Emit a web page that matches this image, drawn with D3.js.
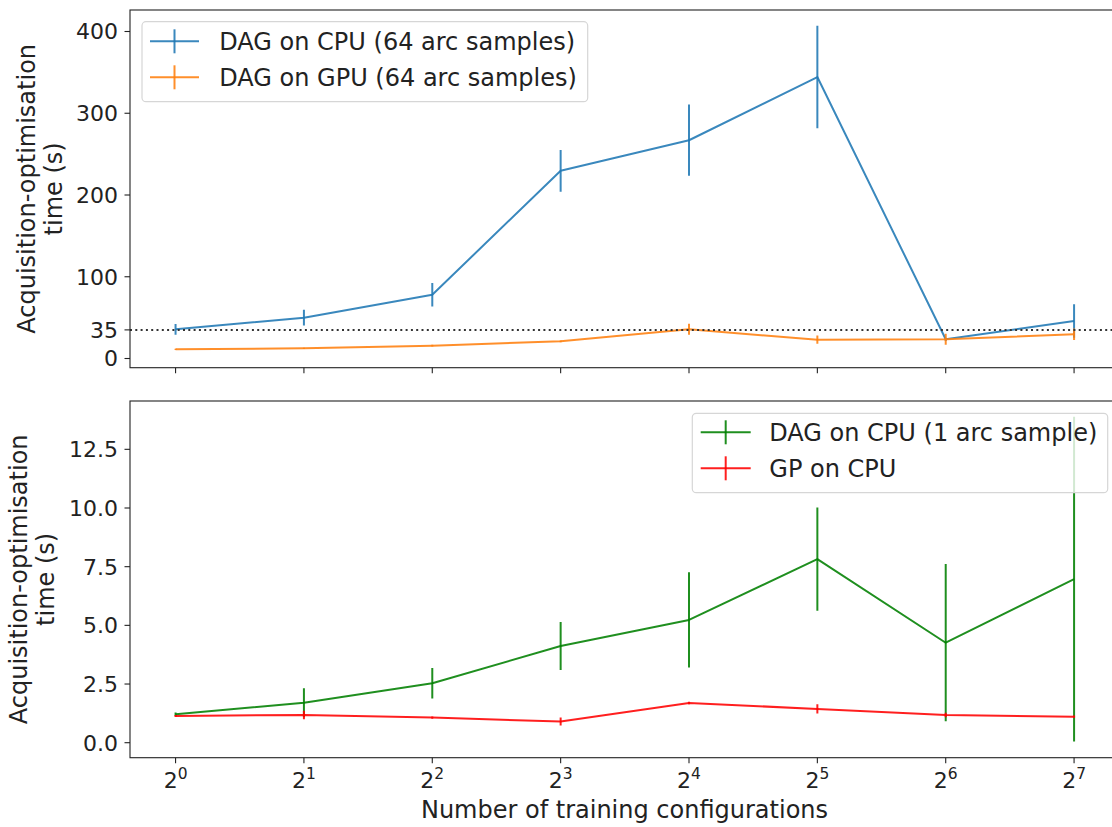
<!DOCTYPE html>
<html>
<head>
<meta charset="utf-8">
<script src="https://cdn.jsdelivr.net/npm/d3@7"></script>
<style>
  html, body { margin: 0; padding: 0; background: #fff; }
  svg { display: block; font-family: "DejaVu Sans", sans-serif; }
</style>
</head>
<body>
<svg id="chart" width="1112" height="827"></svg>
<script>
// ---- data ----
const configs = [1, 2, 4, 8, 16, 32, 64, 128];
const tickExponents = ["0", "1", "2", "3", "4", "5", "6", "7"];

const dagCpu64 = [35.7, 49.9, 78, 229.6, 267, 344.3, 23.5, 45.9];
const dagCpu64Err = [6.5, 9.6, 14.3, 25.5, 43.6, 62.6, 2, 20.4];
const dagGpu64 = [11.2, 12.5, 15.7, 21, 35.7, 23, 23.5, 29.6];
const dagGpu64Err = [0.8, 0.8, 1, 1, 6.7, 5.1, 6.7, 7.1];

const dagCpu1 = [1.21, 1.70, 2.53, 4.12, 5.23, 7.82, 4.26, 6.97];
const dagCpu1Err = [0.08, 0.62, 0.65, 1.02, 2.03, 2.2, 3.35, 6.92];
const gpCpu = [1.14, 1.18, 1.07, 0.9, 1.69, 1.44, 1.18, 1.11];
const gpCpuErr = [0.04, 0.18, 0.05, 0.17, 0.05, 0.2, 0.1, 0.05];

const topTicks = [0, 35, 100, 200, 300, 400];
const bottomTicks = [0, 2.5, 5, 7.5, 10, 12.5];
const refLine = 35;

const topLabels = ["DAG on CPU (64 arc samples)", "DAG on GPU (64 arc samples)"];
const bottomLabels = ["DAG on CPU (1 arc sample)", "GP on CPU"];
const yLabelLines = ["Acquisition-optimisation", "time (s)"];
const xLabel = "Number of training configurations";

// ---- layout ----
const svg = d3.select("#chart");
const left = 130, right = 1119;
const x = d3.scaleLog().base(2).domain([Math.pow(2, -0.355), Math.pow(2, 7.35)]).range([left, right]);

const panels = [
  { top: 10, bottom: 367.7, domain: [-11.25, 426.3], ticks: topTicks, fmt: d => String(d),
    series: [
      { v: dagCpu64, e: dagCpu64Err, color: "#1f77b4", label: topLabels[0] },
      { v: dagGpu64, e: dagGpu64Err, color: "#ff7f0e", label: topLabels[1] }
    ],
    legend: { x0: 142, y0: 21.7, x1: 587.7, y1: 101.7, hx0: 150, hx1: 199, tx: 219.3, rows: [41.3, 77.3] },
    ylab: [35, 62], showX: false, ref: true },
  { top: 401, bottom: 757.7, domain: [-0.639, 14.559], ticks: bottomTicks, fmt: d => d3.format(".1f")(d),
    series: [
      { v: dagCpu1, e: dagCpu1Err, color: "#008000", label: bottomLabels[0] },
      { v: gpCpu, e: gpCpuErr, color: "#ff0000", label: bottomLabels[1] }
    ],
    legend: { x0: 692.3, y0: 413.3, x1: 1107.7, y1: 492.7, hx0: 700.7, hx1: 750.7, tx: 769.3, rows: [432.3, 468.3] },
    ylab: [27, 54], showX: true, ref: false }
];

panels.forEach((p, pi) => {
  const y = d3.scaleLinear().domain(p.domain).range([p.bottom, p.top]);
  const g = svg.append("g");
  const clipId = "clip" + pi;
  svg.append("clipPath").attr("id", clipId)
    .append("rect").attr("x", left).attr("y", p.top).attr("width", right - left).attr("height", p.bottom - p.top);

  // y ticks
  p.ticks.forEach(t => {
    const yy = y(t);
    g.append("line").attr("x1", left - 5.5).attr("x2", left).attr("y1", yy).attr("y2", yy)
      .attr("stroke", "#222").attr("stroke-width", 1.1);
    g.append("text").attr("x", left - 12).attr("y", yy).attr("dy", "0.36em")
      .attr("text-anchor", "end").attr("font-size", 22).attr("fill", "#222").text(p.fmt(t));
  });
  // x ticks
  configs.forEach((c, i) => {
    const xx = x(c);
    g.append("line").attr("x1", xx).attr("x2", xx).attr("y1", p.bottom).attr("y2", p.bottom + 5.5)
      .attr("stroke", "#222").attr("stroke-width", 1.1);
    if (p.showX) {
      const t = g.append("text").attr("x", xx).attr("y", 788).attr("text-anchor", "middle")
        .attr("font-size", 22).attr("fill", "#222");
      t.append("tspan").text("2");
      t.append("tspan").attr("font-size", 15.5).attr("dy", -9).text(tickExponents[i]);
    }
  });

  // series
  const plot = g.append("g").attr("clip-path", `url(#${clipId})`);
  const line = d3.line().x((d, i) => x(configs[i])).y(d => y(d));
  p.series.forEach(s => {
    plot.append("path").attr("d", line(s.v)).attr("fill", "none")
      .attr("stroke", s.color).attr("stroke-width", 2).attr("stroke-opacity", 0.88)
      .attr("stroke-linejoin", "round");
    s.v.forEach((v, i) => {
      plot.append("line").attr("x1", x(configs[i])).attr("x2", x(configs[i]))
        .attr("y1", y(v - s.e[i])).attr("y2", y(v + s.e[i]))
        .attr("stroke", s.color).attr("stroke-width", 2).attr("stroke-opacity", 0.88);
    });
  });
  if (p.ref) {
    plot.append("line").attr("x1", left).attr("x2", right).attr("y1", y(refLine)).attr("y2", y(refLine))
      .attr("stroke", "#333").attr("stroke-width", 2).attr("stroke-dasharray", "2,3.3");
  }

  // frame
  g.append("rect").attr("x", left).attr("y", p.top).attr("width", right - left).attr("height", p.bottom - p.top)
    .attr("fill", "none").attr("stroke", "#222").attr("stroke-width", 1.1);

  // legend
  const L = p.legend;
  g.append("rect").attr("x", L.x0).attr("y", L.y0).attr("width", L.x1 - L.x0).attr("height", L.y1 - L.y0)
    .attr("rx", 4).attr("fill", "#fff").attr("fill-opacity", 0.8).attr("stroke", "#d6d6d6").attr("stroke-width", 1.2);
  p.series.forEach((s, i) => {
    const ry = L.rows[i];
    const cx = (L.hx0 + L.hx1) / 2;
    g.append("line").attr("x1", L.hx0).attr("x2", L.hx1).attr("y1", ry).attr("y2", ry)
      .attr("stroke", s.color).attr("stroke-width", 2).attr("stroke-opacity", 0.88);
    g.append("line").attr("x1", cx).attr("x2", cx).attr("y1", ry - 12).attr("y2", ry + 12)
      .attr("stroke", s.color).attr("stroke-width", 2).attr("stroke-opacity", 0.88);
    g.append("text").attr("x", L.tx).attr("y", ry + 8.7).attr("font-size", 24).attr("fill", "#222").text(s.label);
  });

  // y label
  const cy = (p.top + p.bottom) / 2;
  yLabelLines.forEach((ln, i) => {
    g.append("text").attr("transform", `translate(${p.ylab[i]},${cy}) rotate(-90)`)
      .attr("text-anchor", "middle").attr("font-size", 24).attr("fill", "#222").text(ln);
  });
});

// x label
svg.append("text").attr("x", (left + right) / 2).attr("y", 818).attr("text-anchor", "middle")
  .attr("font-size", 24).attr("fill", "#222").text(xLabel);
</script>
</body>
</html>
